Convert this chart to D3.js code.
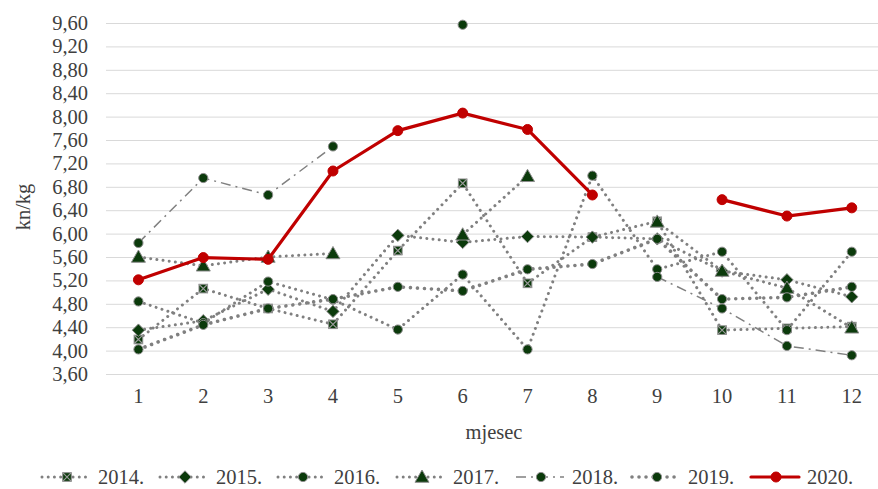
<!DOCTYPE html>
<html>
<head>
<meta charset="utf-8">
<script src="https://cdn.jsdelivr.net/npm/d3@7"></script>
<style>
  html, body { margin: 0; padding: 0; background: #fff; }
  svg text { font-family: "Liberation Serif", "Times New Roman", Times, "DejaVu Serif", serif !important; }
</style>
</head>
<body>
<svg id="chart" width="878" height="489"></svg>
<script>
// Monthly prices (kn/kg) per year; null = no price recorded that month
const months = ["1", "2", "3", "4", "5", "6", "7", "8", "9", "10", "11", "12"];
const yTicks = [3.6, 4.0, 4.4, 4.8, 5.2, 5.6, 6.0, 6.4, 6.8, 7.2, 7.6, 8.0, 8.4, 8.8, 9.2, 9.6];
const seriesNames = ["2014.", "2015.", "2016.", "2017.", "2018.", "2019.", "2020."];

const v2014 = [4.19, 5.06, 4.72, 4.45, 5.71, 6.86, 5.15, 5.94, 6.21, 4.35, 4.38, 4.41];
const v2015 = [4.35, 4.51, 5.05, 4.67, 5.97, 5.85, 5.95, 5.94, 5.91, 5.36, 5.21, 4.92];
const v2016 = [4.84, 4.47, 5.18, 4.87, 4.36, 5.30, 4.02, 6.99, 5.39, 5.69, 4.35, 5.69];
const v2017 = [5.60, 5.45, 5.60, 5.66, null, 5.98, 6.98, null, 6.20, 5.36, 5.07, 4.39];
const v2018 = [5.84, 6.95, 6.66, 7.49, null, 9.57, null, null, 5.26, 4.72, 4.08, 3.92];
const v2019 = [4.02, 4.44, 4.72, 4.88, 5.09, 5.02, 5.39, 5.48, 5.91, 4.88, 4.91, 5.09];
const v2020 = [5.21, 5.59, 5.56, 7.07, 7.76, 8.06, 7.78, 6.66, null, 6.58, 6.30, 6.44];

const values = [v2014, v2015, v2016, v2017, v2018, v2019, v2020];

// Visual style per series
const GREEN = "#0b3a0b", GREY = "#808080", RED = "#c00000";
const styles = [
  { stroke: GREY, width: 3,   dash: "0.01 6.2", marker: "squareX" },
  { stroke: GREY, width: 3,   dash: "0.01 6.2", marker: "diamond" },
  { stroke: GREY, width: 3,   dash: "0.01 6.2", marker: "circle" },
  { stroke: GREY, width: 3,   dash: "0.01 6.2", marker: "triangle" },
  { stroke: GREY, width: 1.5, dash: "10 5 2 5", cap: "butt", marker: "circle" },
  { stroke: GREY, width: 3.6, dash: "0.01 7",   marker: "circle" },
  { stroke: RED,  width: 3.2, dash: null, cap: "round", marker: "redCircle" }
];

const FONT = 20.5;
const TEXT = "#404040";
const svg = d3.select("#chart");
const x = d3.scaleBand().domain(months).range([106, 884.2]);
const y = d3.scaleLinear().domain([3.6, 9.6]).range([374, 23]);
const cx = m => x(m) + x.bandwidth() / 2;

// Horizontal gridlines with value labels
const yAxis = d3.axisLeft(y)
  .tickValues(yTicks)
  .tickSize(-(884.2 - 106))
  .tickPadding(18)
  .tickFormat(d => d3.format(".2f")(d).replace(".", ","));
const gy = svg.append("g").attr("transform", "translate(106,0)").call(yAxis);
gy.select(".domain").remove();
gy.selectAll(".tick line").attr("stroke", "#d9d9d9").attr("stroke-width", 1);
gy.selectAll(".tick text").attr("font-size", FONT).attr("fill", TEXT);

// Month labels
const xAxis = d3.axisBottom(x).tickSize(0).tickPadding(14);
const gx = svg.append("g").attr("transform", "translate(0,374)").call(xAxis);
gx.select(".domain").remove();
gx.selectAll(".tick text").attr("font-size", FONT).attr("fill", TEXT);

// Axis titles
svg.append("text").attr("x", 494).attr("y", 439).attr("text-anchor", "middle")
  .attr("font-size", FONT).attr("fill", TEXT).text("mjesec");
svg.append("text").attr("transform", "translate(30,207) rotate(-90)")
  .attr("text-anchor", "middle").attr("font-size", FONT).attr("fill", TEXT).text("kn/kg");

// Marker painter
function drawMarker(g, type, px, py) {
  if (type === "circle") {
    g.append("circle").attr("cx", px).attr("cy", py).attr("r", 4.6)
      .attr("fill", GREEN).attr("stroke", "#8c8c8c").attr("stroke-width", 1);
  } else if (type === "redCircle") {
    g.append("circle").attr("cx", px).attr("cy", py).attr("r", 5)
      .attr("fill", RED).attr("stroke", RED).attr("stroke-width", 1);
  } else if (type === "diamond") {
    const s = 6.2;
    g.append("path").attr("d", `M${px},${py - s}L${px + s},${py}L${px},${py + s}L${px - s},${py}Z`)
      .attr("fill", GREEN).attr("stroke", "#8c8c8c").attr("stroke-width", 1);
  } else if (type === "triangle") {
    const s = 7;
    g.append("path").attr("d", `M${px},${py - s}L${px + s},${py + s * 0.75}L${px - s},${py + s * 0.75}Z`)
      .attr("fill", GREEN).attr("stroke", "#8c8c8c").attr("stroke-width", 1);
  } else if (type === "squareX") {
    const s = 4.3;
    g.append("rect").attr("x", px - s).attr("y", py - s).attr("width", 2 * s).attr("height", 2 * s)
      .attr("fill", GREEN).attr("stroke", "#8c8c8c").attr("stroke-width", 1);
    g.append("path").attr("d", `M${px - s},${py - s}L${px + s},${py + s}M${px + s},${py - s}L${px - s},${py + s}`)
      .attr("stroke", "#9a9a9a").attr("stroke-width", 1.2);
  }
}

// Series lines and markers, drawn in order so 2020 lies on top
const line = d3.line()
  .defined(d => d.v !== null)
  .x(d => cx(d.m))
  .y(d => y(d.v));

values.forEach((vals, i) => {
  const st = styles[i];
  const pts = months.map((m, j) => ({ m, v: vals[j] }));
  const g = svg.append("g");
  g.append("path").datum(pts).attr("d", line)
    .attr("fill", "none").attr("stroke", st.stroke).attr("stroke-width", st.width)
    .attr("stroke-linecap", st.cap || "round").attr("stroke-linejoin", "round")
    .attr("stroke-dasharray", st.dash);
  pts.filter(d => d.v !== null).forEach(d => drawMarker(g, st.marker, cx(d.m), y(d.v)));
});

// Legend
const legendX = [42, 160, 278, 397, 516, 632, 751];
const legendY = 477;
seriesNames.forEach((name, i) => {
  const st = styles[i];
  const g = svg.append("g");
  const x0 = legendX[i];
  g.append("line").attr("x1", x0).attr("x2", x0 + 48).attr("y1", legendY).attr("y2", legendY)
    .attr("stroke", st.stroke).attr("stroke-width", st.width)
    .attr("stroke-linecap", st.cap || "round").attr("stroke-dasharray", st.dash);
  drawMarker(g, st.marker, x0 + 25, legendY);
  g.append("text").attr("x", x0 + 56).attr("y", legendY + 6.5)
    .attr("font-size", FONT).attr("fill", TEXT).text(name);
});
</script>
</body>
</html>
